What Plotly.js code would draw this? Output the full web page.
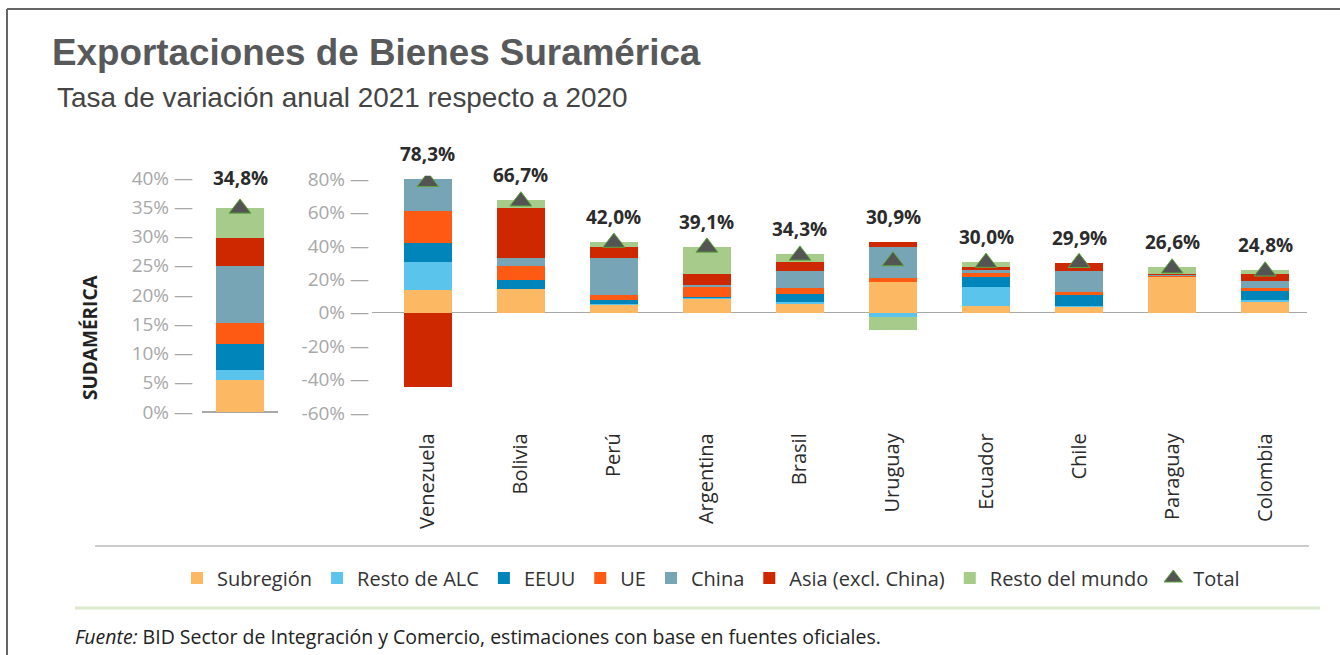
<!DOCTYPE html>
<html>
<head>
<meta charset="utf-8">
<script src="https://cdn.plot.ly/plotly-3.0.1.min.js"></script>
<style>
  html, body { margin: 0; padding: 0; background: #fff; }
  #plot { width: 1340px; height: 655px; }
</style>
</head>
<body>
<div id="plot"></div>
<script>
// Datos (puntos porcentuales de contribución)
const paises = ['Venezuela', 'Bolivia', 'Perú', 'Argentina', 'Brasil', 'Uruguay', 'Ecuador', 'Chile', 'Paraguay', 'Colombia'];
const series = ['Subregión', 'Resto de ALC', 'EEUU', 'UE', 'China', 'Asia (excl. China)', 'Resto del mundo'];
const colores = ['#FDB863', '#5BC4EC', '#0085BA', '#FF5A14', '#77A5B6', '#CD2800', '#A6CB8B'];

const subregion  = [13.6, 14.0, 4.6, 8.2, 5.4, 18.4, 3.8, 3.4, 21.4, 6.6];
const restoALC   = [16.6, 0, 0.6, 0.4, 1.2, -2.6, 11.8, 0.8, 0, 0.9];
const eeuu       = [11.3, 5.8, 2.4, 1.0, 4.8, 0, 5.8, 6.4, 0, 5.4];
const ue         = [19.2, 8.0, 2.8, 5.6, 3.6, 2.1, 2.4, 1.6, 0.3, 1.8];
const china      = [19.3, 4.9, 22.3, 1.4, 10.1, 18.8, 1.6, 12.9, 0.6, 4.4];
const asia       = [-44.6, 30.0, 6.6, 6.7, 5.2, 2.8, 2.0, 4.8, 0.8, 3.8];
const restoMundo = [0, 4.7, 3.0, 16.2, 4.8, -7.6, 2.9, 0, 4.2, 2.4];
const total      = [78.3, 66.7, 42.0, 39.1, 34.3, 30.9, 30.0, 29.9, 26.6, 24.8];

// Sudamérica (agregado), mismo orden que `series`
const sudamerica = [5.5, 1.7, 4.4, 3.7, 9.7, 4.8, 5.0];
const totalSudamerica = 34.8;

const ticksIzq = [0, 5, 10, 15, 20, 25, 30, 35, 40];
const ticksDer = [-60, -40, -20, 0, 20, 40, 60, 80];

const valores = [subregion, restoALC, eeuu, ue, china, asia, restoMundo];

const W = 1340, H = 655;
const px = x => x / W;
const py = y => 1 - y / H;

let traces = [];

// panel izquierdo
series.forEach((s, i) => {
    traces.push({
        type: 'bar', x: ['Sudamérica'], y: [sudamerica[i]],
        xaxis: 'x', yaxis: 'y', name: s,
        marker: { color: colores[i], line: { width: 0 } },
        width: 0.63, showlegend: false, hoverinfo: 'name+y'
    });
});
traces.push({
    type: 'scatter', mode: 'markers', x: ['Sudamérica'], y: [totalSudamerica],
    xaxis: 'x', yaxis: 'y', name: 'Total', showlegend: false,
    marker: { symbol: 'triangle-up', size: 19, color: '#545454', line: { color: '#5DAA3C', width: 1 } }
});

// panel principal
series.forEach((s, i) => {
    traces.push({
        type: 'bar', x: paises, y: valores[i],
        xaxis: 'x2', yaxis: 'y2', name: s,
        marker: { color: colores[i], line: { width: 0 } },
        width: 0.52
    });
});
traces.push({
    type: 'scatter', mode: 'markers', x: paises, y: total,
    xaxis: 'x2', yaxis: 'y2', name: 'Total',
    marker: { symbol: 'triangle-up', size: 19, color: '#545454', line: { color: '#5DAA3C', width: 1 } }
});

const fmt = v => v.toFixed(1).replace('.', ',') + '%';
const etiqueta = v => v + '% —';

// etiquetas de total sobre la parte positiva de cada pila
let annotations = paises.map((p, j) => {
    let tope = valores.reduce((a, serie) => a + Math.max(serie[j], 0), 0);
    return {
        x: p, y: Math.max(tope, total[j]), xref: 'x2', yref: 'y2',
        text: '<b>' + fmt(total[j]) + '</b>', showarrow: false,
        yanchor: 'bottom', yshift: 10,
        font: { family: 'Open Sans', size: 19, color: '#2b2b2b' }
    };
});
annotations.push({
    x: 'Sudamérica', y: sudamerica.reduce((a, b) => a + b, 0), xref: 'x', yref: 'y',
    text: '<b>' + fmt(totalSudamerica) + '</b>', showarrow: false,
    yanchor: 'bottom', yshift: 15,
    font: { family: 'Open Sans', size: 19, color: '#2b2b2b' }
});

annotations.push(
    {
        xref: 'paper', yref: 'paper', x: px(50), y: py(52), xanchor: 'left', yanchor: 'middle',
        text: '<b>Exportaciones de Bienes Suramérica</b>', showarrow: false,
        font: { family: 'Liberation Sans', size: 36.8, color: '#58595b' }
    },
    {
        xref: 'paper', yref: 'paper', x: px(55), y: py(97), xanchor: 'left', yanchor: 'middle',
        text: 'Tasa de variación anual 2021 respecto a 2020', showarrow: false,
        font: { family: 'Liberation Sans', size: 27.9, color: '#444' }
    },
    {
        xref: 'paper', yref: 'paper', x: px(90), y: py(338), xanchor: 'center', yanchor: 'middle',
        text: '<b>SUDAMÉRICA</b>', textangle: -90, showarrow: false,
        font: { family: 'Open Sans', size: 19, color: '#222' }
    },
    {
        xref: 'paper', yref: 'paper', x: px(73), y: py(636), xanchor: 'left', yanchor: 'middle',
        text: '<i>Fuente:</i> BID Sector de Integración y Comercio, estimaciones con base en fuentes oficiales.',
        showarrow: false,
        font: { family: 'Open Sans', size: 19.5, color: '#222' }
    }
);

const tickFont = { family: 'Open Sans', size: 19, color: '#a8a8a8' };

let layout = {
    width: W, height: H,
    margin: { l: 0, r: 0, t: 0, b: 0 },
    paper_bgcolor: '#fff', plot_bgcolor: 'rgba(0,0,0,0)',
    barmode: 'relative', bargap: 0,
    showlegend: true,
    legend: {
        orientation: 'h', x: px(711), xanchor: 'center', y: py(578), yanchor: 'middle',
        font: { family: 'Open Sans', size: 20, color: '#333' },
        itemwidth: 30, traceorder: 'normal'
    },
    xaxis: {
        domain: [px(202), px(278)], range: [-0.5, 0.5], type: 'category',
        showticklabels: false, showgrid: false, zeroline: false, showline: false, ticks: ''
    },
    yaxis: {
        domain: [py(417.9), py(166.3)], range: [-1, 42],
        tickmode: 'array', tickvals: ticksIzq, ticktext: ticksIzq.map(etiqueta),
        tickfont: tickFont, showgrid: false, showline: false, ticks: '',
        zeroline: true, zerolinecolor: '#a8a8a8', zerolinewidth: 1.5, ticklabelstandoff: 8
    },
    xaxis2: {
        domain: [px(372), px(1307)], range: [-0.6, 9.45], type: 'category',
        tickangle: -90, tickfont: { family: 'Open Sans', size: 20, color: '#2a2a2a' },
        showgrid: false, zeroline: false, showline: false, ticks: '', ticklabelstandoff: 12,
        anchor: 'y2'
    },
    yaxis2: {
        domain: [py(416.3), py(175.7)], range: [-62, 82],
        tickmode: 'array', tickvals: ticksDer, ticktext: ticksDer.map(etiqueta),
        tickfont: tickFont, showgrid: false, showline: false, ticks: '',
        zeroline: true, zerolinecolor: '#a8a8a8', zerolinewidth: 1.5,
        anchor: 'x2', ticklabelstandoff: 2
    },
    annotations: annotations,
    shapes: [
        // marco (arriba e izquierda)
        { type: 'line', xref: 'paper', yref: 'paper', x0: px(7), x1: 1, y0: py(9), y1: py(9), line: { color: '#666', width: 2 } },
        { type: 'line', xref: 'paper', yref: 'paper', x0: px(7), x1: px(7), y0: py(9), y1: 0, line: { color: '#666', width: 2 } },
        // línea sobre la leyenda
        { type: 'line', xref: 'paper', yref: 'paper', x0: px(95), x1: px(1309), y0: py(546), y1: py(546), line: { color: '#9a9a9a', width: 1.2 } },
        // línea verde bajo la leyenda
        { type: 'line', xref: 'paper', yref: 'paper', x0: px(75), x1: px(1320), y0: py(608), y1: py(608), line: { color: '#dbe9cf', width: 3 } }
    ]
};

Plotly.newPlot('plot', traces, layout, { displayModeBar: false, staticPlot: true });
</script>
</body>
</html>
